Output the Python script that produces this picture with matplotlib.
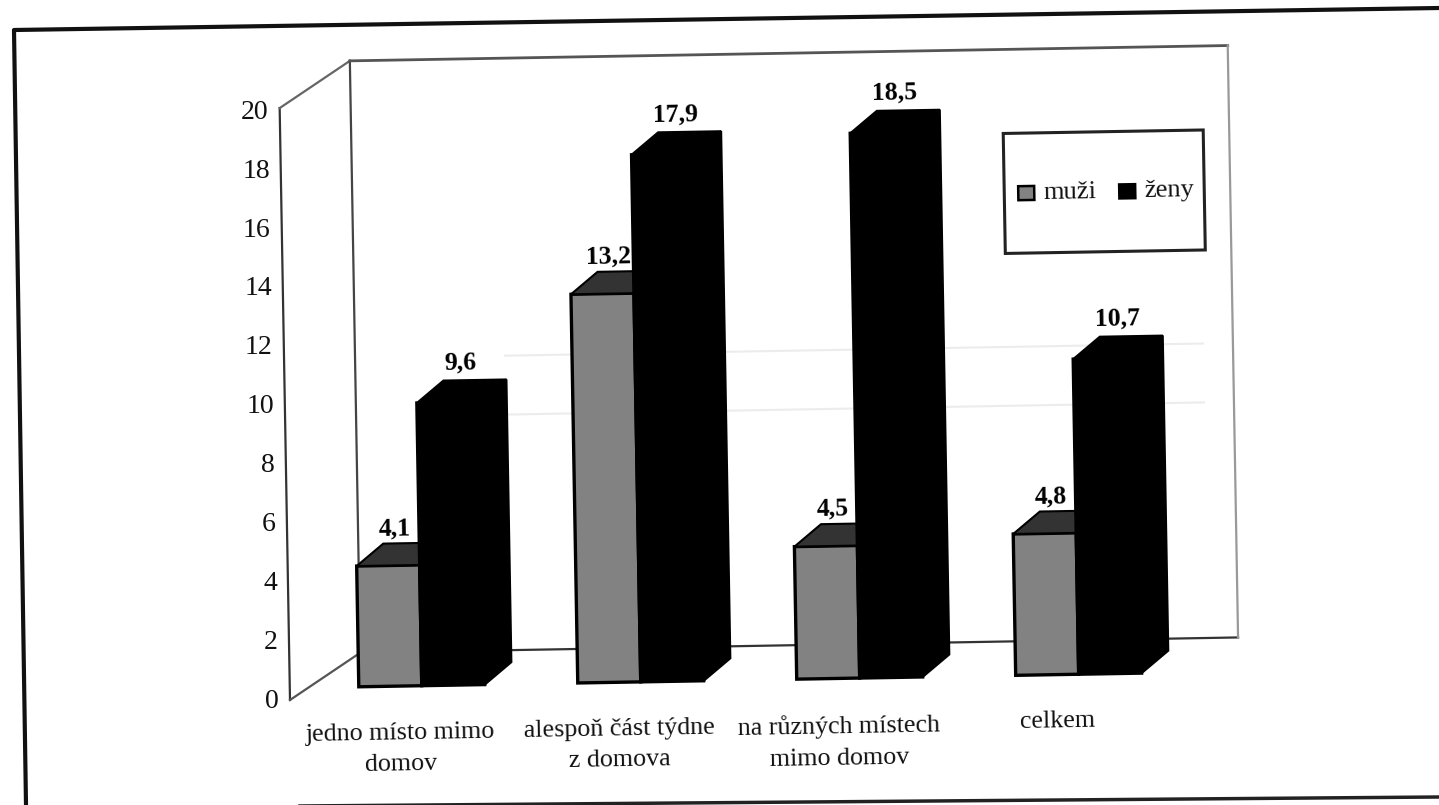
import matplotlib

matplotlib.use("Agg")
import matplotlib.pyplot as plt
import numpy as np
from matplotlib.lines import Line2D
from matplotlib.patches import Rectangle
from matplotlib.transforms import Affine2D, IdentityTransform

# data
categories = [
    "jedno místo mimo\ndomov",
    "alespoň část týdne\nz domova",
    "na různých místech\nmimo domov",
    "celkem",
]
muzi = [4.1, 13.2, 4.5, 4.8]
zeny = [9.6, 17.9, 18.5, 10.7]
value_ticks = [0, 2, 4, 6, 8, 10, 12, 14, 16, 18, 20]
series_names = ["muži", "ženy"]

W, H = 1439, 805
PX_CAT = 219.0  # pixels per category
PX_VAL = 29.45  # pixels per unit of value
ORIGIN_X, ORIGIN_Y = 290, 700  # front corner of the floor in the scan
FIRST_X = 422  # where the two bars of the first group meet
INSET = 12  # bars stand this far above the front edge of the floor
DEPTH_X, DEPTH_Y = 27, 22
TILT = 1.0  # the page was scanned slightly crooked

GREY = "#828282"
TOP_GREY = "#333333"
BAR_W = 63 / PX_CAT

plt.rcParams["font.family"] = ["Liberation Serif", "DejaVu Serif"]

fig = plt.figure(figsize=(W / 100, H / 100), dpi=100, facecolor="white")
ax = fig.add_axes([0, 0, 1, 1])
ax.set_axis_off()

rot = Affine2D().rotate_deg_around(ORIGIN_X, H - ORIGIN_Y, TILT)
data_tf = ax.transData + rot
wall_tf = Affine2D().translate(ORIGIN_X, H - ORIGIN_Y) + rot  # pixels from the corner


def draw_bar_3d(x, value, front, top, z):
    """Front face through ax.bar, top and side faces pushed back by the depth."""
    dx = DEPTH_X / PX_CAT
    dy = DEPTH_Y / PX_VAL
    ax.bar(x, value, BAR_W, align="edge", color=front, edgecolor="black",
           linewidth=2.4, transform=data_tf, zorder=z)
    ax.fill([x, x + dx, x + BAR_W + dx, x + BAR_W], [value, value + dy, value + dy, value],
            facecolor=top, edgecolor="black", linewidth=1.5, transform=data_tf, zorder=z)
    ax.fill([x + BAR_W, x + BAR_W + dx, x + BAR_W + dx, x + BAR_W],
            [0, dy, value + dy, value], facecolor="black", edgecolor="black",
            linewidth=1.5, transform=data_tf, zorder=z)


def wall_line(xs, ys, color="#333333", lw=1.6):
    ax.add_line(Line2D(xs, ys, color=color, linewidth=lw, transform=wall_tf, zorder=1))


# walls and floor
WALL_H = 592
WALL_W = 878
BACK_X, BACK_Y = 71, 46
wall_line([0, 0], [0, WALL_H])
wall_line([0, BACK_X], [WALL_H, BACK_Y + WALL_H], "#666666")
wall_line([0, BACK_X], [0, BACK_Y], "#555555")
wall_line([BACK_X, BACK_X], [BACK_Y, BACK_Y + WALL_H], "#444444")
wall_line([BACK_X, BACK_X + WALL_W], [BACK_Y + WALL_H, BACK_Y + WALL_H], "#555555", 2)
wall_line([BACK_X, BACK_X + WALL_W], [BACK_Y, BACK_Y], "#333333")
wall_line([BACK_X + WALL_W] * 2, [BACK_Y, BACK_Y + WALL_H], "#999999")

# faint gridlines that survive in the scan
for v in [8, 10]:
    wall_line([BACK_X + 150, BACK_X + WALL_W - 30], [BACK_Y + v * PX_VAL] * 2, "#ececec", 1.5)

# value axis labels
for v in value_ticks:
    ax.text(-11, -1 + v * PX_VAL, str(v), ha="right", va="center", fontsize=20,
            color="#111111", transform=wall_tf, zorder=2)

# bars
for i in range(len(categories)):
    draw_bar_3d(i - BAR_W, muzi[i], GREY, TOP_GREY, 3)
    draw_bar_3d(i, zeny[i], "black", "black", 4)

    ax.text(i - BAR_W / 2 + 7 / PX_CAT, muzi[i] + (DEPTH_Y + 15) / PX_VAL,
            f"{muzi[i]:.1f}".replace(".", ","), ha="center", va="center", fontsize=18.5,
            fontweight="bold", color="black", rotation=TILT, rotation_mode="anchor",
            transform=data_tf, zorder=3.5)
    ax.text(i + BAR_W / 2 + 13 / PX_CAT, zeny[i] + (DEPTH_Y + 18) / PX_VAL,
            f"{zeny[i]:.1f}".replace(".", ","), ha="center", va="center", fontsize=18.5,
            fontweight="bold", color="black", rotation=TILT, rotation_mode="anchor",
            transform=data_tf, zorder=5)
    ax.text(i - 22 / PX_CAT, -36 / PX_VAL, categories[i], ha="center", va="top", fontsize=18.7,
            linespacing=1.55, color="#111111", rotation=TILT, rotation_mode="anchor",
            transform=data_tf, zorder=5)

ax.set_xlim(-FIRST_X / PX_CAT, (W - FIRST_X) / PX_CAT)
base = H - (ORIGIN_Y - INSET)
ax.set_ylim(-base / PX_VAL, (H - base) / PX_VAL)

# legend box, drawn by hand since it has to tilt with the page
LEG_X, LEG_Y = 723, 434
ax.add_patch(Rectangle((LEG_X, LEG_Y), 200, 120, facecolor="white", edgecolor="#222222",
                       linewidth=2.2, transform=wall_tf, zorder=6))
for name, color, off in zip(series_names, [GREY, "black"], [14, 115]):
    ax.add_patch(Rectangle((LEG_X + off, LEG_Y + 53), 16, 14, facecolor=color, edgecolor="black",
                           linewidth=1.8, transform=wall_tf, zorder=7))
    ax.text(LEG_X + off + 25, LEG_Y + 60, name, ha="left", va="center", fontsize=19,
            color="#111111", rotation=TILT, rotation_mode="anchor",
            transform=wall_tf, zorder=7)

# page frame from the scan
frame_x = [1439, 14, 26]
frame_y = [H - 8, H - 30, 0]
fig.add_artist(Line2D(frame_x, frame_y, color="#111111", linewidth=3,
                      transform=IdentityTransform()))
fig.add_artist(Line2D([300, 1439], [-1, 8], color="#222222", linewidth=2.5,
                      transform=IdentityTransform()))

fig.savefig("out.png", dpi=100, facecolor="white")
